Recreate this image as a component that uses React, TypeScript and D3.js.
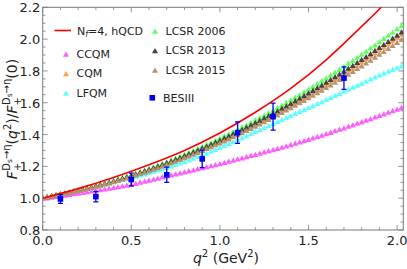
import React from "react";
import * as d3 from "d3";

const W = 407;
const H = 269;

// q^2 grid of the model points (GeV^2)
const qGrid = d3.range(82).map((i) => +(i * 0.025).toFixed(3));

const ccqm = [
  0.993, 0.997, 1.001, 1.006, 1.010, 1.014, 1.018, 1.023, 1.027, 1.031, 1.035, 1.040, 1.044,
  1.048, 1.053, 1.057, 1.062, 1.067, 1.072, 1.077, 1.082, 1.088, 1.095, 1.101, 1.108, 1.115,
  1.121, 1.128, 1.135, 1.141, 1.148, 1.154, 1.160, 1.167, 1.173, 1.180, 1.186, 1.193, 1.199,
  1.206, 1.212, 1.219, 1.227, 1.234, 1.241, 1.248, 1.256, 1.263, 1.270, 1.278, 1.285, 1.293,
  1.300, 1.308, 1.316, 1.324, 1.332, 1.340, 1.349, 1.357, 1.365, 1.374, 1.383, 1.391, 1.400,
  1.409, 1.419, 1.428, 1.437, 1.447, 1.456, 1.466, 1.475, 1.485, 1.495, 1.505, 1.515, 1.525,
  1.535, 1.545, 1.555, 1.565,
];

const cqm = [
  1.000, 1.005, 1.010, 1.015, 1.020, 1.026, 1.032, 1.038, 1.044, 1.051, 1.057, 1.064, 1.071,
  1.079, 1.086, 1.094, 1.102, 1.110, 1.118, 1.127, 1.136, 1.145, 1.154, 1.163, 1.173, 1.183,
  1.193, 1.203, 1.213, 1.224, 1.235, 1.246, 1.257, 1.268, 1.280, 1.291, 1.303, 1.315, 1.328,
  1.340, 1.353, 1.366, 1.379, 1.392, 1.406, 1.419, 1.433, 1.447, 1.461, 1.475, 1.490, 1.505,
  1.520, 1.535, 1.550, 1.565, 1.581, 1.597, 1.612, 1.629, 1.645, 1.661, 1.678, 1.694, 1.711,
  1.729, 1.746, 1.763, 1.781, 1.799, 1.816, 1.834, 1.853, 1.871, 1.890, 1.908, 1.927, 1.946,
  1.965, 1.985, 2.004, 2.024,
];

const lfqm = [
  1.000, 1.006, 1.011, 1.017, 1.023, 1.029, 1.035, 1.041, 1.047, 1.053, 1.059, 1.066, 1.072,
  1.078, 1.085, 1.091, 1.098, 1.105, 1.112, 1.119, 1.126, 1.133, 1.141, 1.148, 1.156, 1.164,
  1.172, 1.180, 1.189, 1.198, 1.207, 1.216, 1.226, 1.236, 1.247, 1.257, 1.268, 1.279, 1.291,
  1.302, 1.314, 1.326, 1.338, 1.350, 1.362, 1.375, 1.388, 1.402, 1.415, 1.427, 1.440, 1.452,
  1.465, 1.477, 1.490, 1.502, 1.515, 1.527, 1.540, 1.552, 1.565, 1.577, 1.590, 1.602, 1.615,
  1.628, 1.641, 1.654, 1.667, 1.680, 1.693, 1.705, 1.718, 1.731, 1.744, 1.757, 1.770, 1.782,
  1.793, 1.804, 1.815, 1.826,
];

const lcsr2006 = [
  1.000, 1.005, 1.010, 1.016, 1.021, 1.027, 1.034, 1.040, 1.046, 1.053, 1.060, 1.068, 1.075,
  1.083, 1.091, 1.099, 1.107, 1.116, 1.125, 1.134, 1.143, 1.152, 1.162, 1.172, 1.182, 1.192,
  1.203, 1.214, 1.225, 1.236, 1.247, 1.259, 1.271, 1.283, 1.295, 1.307, 1.320, 1.332, 1.345,
  1.359, 1.372, 1.386, 1.399, 1.413, 1.428, 1.442, 1.456, 1.471, 1.486, 1.501, 1.517, 1.532,
  1.548, 1.564, 1.580, 1.596, 1.612, 1.629, 1.646, 1.663, 1.680, 1.697, 1.715, 1.733, 1.750,
  1.769, 1.787, 1.805, 1.824, 1.843, 1.861, 1.881, 1.900, 1.919, 1.939, 1.959, 1.979, 1.999,
  2.019, 2.039, 2.060, 2.081,
];

const lcsr2013 = [
  1.000, 1.005, 1.010, 1.015, 1.021, 1.027, 1.033, 1.039, 1.045, 1.052, 1.059, 1.066, 1.073,
  1.081, 1.088, 1.096, 1.104, 1.113, 1.121, 1.130, 1.139, 1.148, 1.158, 1.167, 1.177, 1.187,
  1.197, 1.207, 1.218, 1.229, 1.240, 1.251, 1.262, 1.274, 1.286, 1.297, 1.310, 1.322, 1.334,
  1.347, 1.360, 1.373, 1.386, 1.400, 1.413, 1.427, 1.441, 1.455, 1.470, 1.484, 1.499, 1.514,
  1.529, 1.544, 1.560, 1.575, 1.591, 1.607, 1.623, 1.640, 1.656, 1.673, 1.689, 1.706, 1.724,
  1.741, 1.758, 1.776, 1.794, 1.812, 1.830, 1.848, 1.867, 1.885, 1.904, 1.923, 1.942, 1.961,
  1.981, 2.000, 2.020, 2.040,
];

const lcsr2015 = [
  1.000, 1.005, 1.009, 1.015, 1.020, 1.025, 1.031, 1.037, 1.043, 1.049, 1.056, 1.062, 1.069,
  1.076, 1.084, 1.091, 1.099, 1.107, 1.115, 1.123, 1.132, 1.141, 1.150, 1.159, 1.168, 1.178,
  1.187, 1.197, 1.207, 1.218, 1.228, 1.239, 1.250, 1.261, 1.272, 1.283, 1.295, 1.307, 1.319,
  1.331, 1.343, 1.355, 1.368, 1.381, 1.394, 1.407, 1.421, 1.434, 1.448, 1.462, 1.476, 1.490,
  1.505, 1.519, 1.534, 1.549, 1.564, 1.579, 1.595, 1.610, 1.626, 1.642, 1.658, 1.674, 1.691,
  1.707, 1.724, 1.741, 1.758, 1.775, 1.792, 1.810, 1.827, 1.845, 1.863, 1.881, 1.900, 1.918,
  1.936, 1.955, 1.974, 1.993,
];

// hQCD (Nf = 4) curve
const hqcdQ = [0, 0.2, 0.4, 0.6, 0.8, 1.0, 1.2, 1.4, 1.6, 1.8, 1.91, 1.95];
const hqcdV = [1.0, 1.06, 1.13, 1.21, 1.3, 1.41, 1.54, 1.69, 1.87, 2.08, 2.2, 2.25];

// BESIII data
const besQ = [0.1, 0.3, 0.5, 0.7, 0.9, 1.1, 1.3, 1.7];
const besV = [0.995, 1.01, 1.117, 1.147, 1.247, 1.412, 1.513, 1.755];
const besE = [0.028, 0.033, 0.04, 0.048, 0.055, 0.067, 0.085, 0.071];

const xMajor = [0, 0.5, 1.0, 1.5, 2.0];
const yMajor = [0.8, 1.0, 1.2, 1.4, 1.6, 1.8, 2.0, 2.2];

const series = [
  { name: "CCQM", color: "#ff5cff", values: ccqm },
  { name: "CQM", color: "#ffa050", values: cqm },
  { name: "LFQM", color: "#5cffff", values: lfqm },
  { name: "LCSR 2006", color: "#5cff5c", values: lcsr2006 },
  { name: "LCSR 2013", color: "#444444", values: lcsr2013 },
  { name: "LCSR 2015", color: "#b8946e", values: lcsr2015 },
];

const legendPos: Record<string, [number, number]> = {
  CCQM: [66, 55],
  CQM: [66, 74.5],
  LFQM: [66, 94],
  "LCSR 2006": [155, 32],
  "LCSR 2013": [155, 51.5],
  "LCSR 2015": [155, 71],
};

const FONT = "'DejaVu Sans', sans-serif";
const FRAME = "#7a7a7a";

export default function App() {
  const L = 42.7, R = 403.3, T = 7.3, B = 230;
  const x = d3.scaleLinear().domain([0, 2.035]).range([L, R]);
  const y = d3.scaleLinear().domain([0.8, 2.2]).range([B, T]);
  const tri = d3.symbol(d3.symbolTriangle, 16)() as string;
  const line = d3
    .line<number>()
    .x((_, i) => x(hqcdQ[i]))
    .y((d) => y(d))
    .curve(d3.curveMonotoneX);

  const xMinor = d3.range(0, 2.001, 0.1).map((v) => +v.toFixed(2));
  const yMinor = d3.range(0.8, 2.2001, 0.05).map((v) => +v.toFixed(2));
  const majL = 5, minL = 2.8;

  return (
    <svg
      width={W}
      height={H}
      style={{ position: "absolute", left: 0, top: 0, background: "#fff" }}
      fontFamily={FONT}
    >
      <defs>
        <clipPath id="plot">
          <rect x={L} y={T} width={R - L} height={B - T} />
        </clipPath>
      </defs>

      {/* frame */}
      <rect x={L} y={T} width={R - L} height={B - T} fill="none" stroke={FRAME} strokeWidth={1} />
      {xMinor.map((v) => {
        const len = xMajor.some((m) => Math.abs(m - v) < 1e-6) ? majL : minL;
        return (
          <g key={"xt" + v} stroke={FRAME} strokeWidth={0.8}>
            <line x1={x(v)} x2={x(v)} y1={B} y2={B - len} />
            <line x1={x(v)} x2={x(v)} y1={T} y2={T + len} />
          </g>
        );
      })}
      {yMinor.map((v) => {
        const len = yMajor.some((m) => Math.abs(m - v) < 1e-6) ? majL : minL;
        return (
          <g key={"yt" + v} stroke={FRAME} strokeWidth={0.8}>
            <line x1={L} x2={L + len} y1={y(v)} y2={y(v)} />
            <line x1={R} x2={R - len} y1={y(v)} y2={y(v)} />
          </g>
        );
      })}
      {xMajor.map((v) => (
        <text key={"xl" + v} x={x(v)} y={B + 15} fontSize={13} textAnchor="middle" fill="#222">
          {v.toFixed(1)}
        </text>
      ))}
      {yMajor.map((v) => (
        <text key={"yl" + v} x={L - 2.5} y={y(v) + 5} fontSize={13} textAnchor="end" fill="#222">
          {v.toFixed(1)}
        </text>
      ))}

      {/* model points */}
      <g clipPath="url(#plot)">
        {series.map((s) => (
          <g key={s.name} fill={s.color}>
            {s.values.map((v, i) => (
              <path key={i} d={tri} transform={`translate(${x(qGrid[i])},${y(v)})`} />
            ))}
          </g>
        ))}
        <path d={line(hqcdV) as string} fill="none" stroke="#ff0000" strokeWidth={1.6} />
        {besQ.map((q, i) => (
          <g key={"b" + i} stroke="#0000ee" strokeWidth={1.3}>
            <line x1={x(q)} x2={x(q)} y1={y(besV[i] - besE[i])} y2={y(besV[i] + besE[i])} />
            <line x1={x(q) - 2.5} x2={x(q) + 2.5} y1={y(besV[i] - besE[i])} y2={y(besV[i] - besE[i])} />
            <line x1={x(q) - 2.5} x2={x(q) + 2.5} y1={y(besV[i] + besE[i])} y2={y(besV[i] + besE[i])} />
            <rect x={x(q) - 2.8} y={y(besV[i]) - 2.8} width={5.6} height={5.6} fill="#0000ee" stroke="none" />
          </g>
        ))}
      </g>

      {/* legend */}
      <line x1={54.5} x2={71} y1={30.5} y2={30.5} stroke="#ff0000" strokeWidth={1.6} />
      <text x={77} y={34.5} fontSize={11} fill="#222">
        <tspan>N</tspan>
        <tspan fontSize={8} dy={2.5} fontStyle="italic">f</tspan>
        <tspan dy={-2.5}>=4, hQCD</tspan>
      </text>
      {series.map((s) => {
        const [lx, ly] = legendPos[s.name];
        return (
          <g key={"lg" + s.name}>
            <path d={tri} transform={`translate(${lx},${ly})`} fill={s.color} />
            <text x={lx + 10.5} y={ly + 2.5} fontSize={11} fill="#222">
              {s.name}
            </text>
          </g>
        );
      })}
      <rect x={149.5} y={95} width={5.6} height={5.6} fill="#0000ee" />
      <text x={163} y={101.5} fontSize={11} fill="#222">BESIII</text>

      {/* axis labels */}
      <text x={226} y={263} fontSize={14} textAnchor="middle" fill="#222">
        <tspan fontStyle="italic">q</tspan>
        <tspan fontSize={10} dy={-6}>2</tspan>
        <tspan dy={6}> (GeV</tspan>
        <tspan fontSize={10} dy={-6}>2</tspan>
        <tspan dy={6}>)</tspan>
      </text>
      <text transform="translate(17,119) rotate(-90)" fontSize={14} textAnchor="middle" fill="#222">
        <tspan fontStyle="italic">F</tspan>
        <tspan fontSize={10} dy={4}>+</tspan>
        <tspan fontSize={10} dx={-8} dy={-11}>D</tspan>
        <tspan fontSize={7.5} dy={2}>s</tspan>
        <tspan fontSize={10} dy={-2}>→η</tspan>
        <tspan dy={7}>(</tspan>
        <tspan fontStyle="italic">q</tspan>
        <tspan fontSize={10} dy={-6}>2</tspan>
        <tspan dy={6}>)/</tspan>
        <tspan fontStyle="italic">F</tspan>
        <tspan fontSize={10} dy={4}>+</tspan>
        <tspan fontSize={10} dx={-8} dy={-11}>D</tspan>
        <tspan fontSize={7.5} dy={2}>s</tspan>
        <tspan fontSize={10} dy={-2}>→η</tspan>
        <tspan dy={7}>(0)</tspan>
      </text>
    </svg>
  );
}
